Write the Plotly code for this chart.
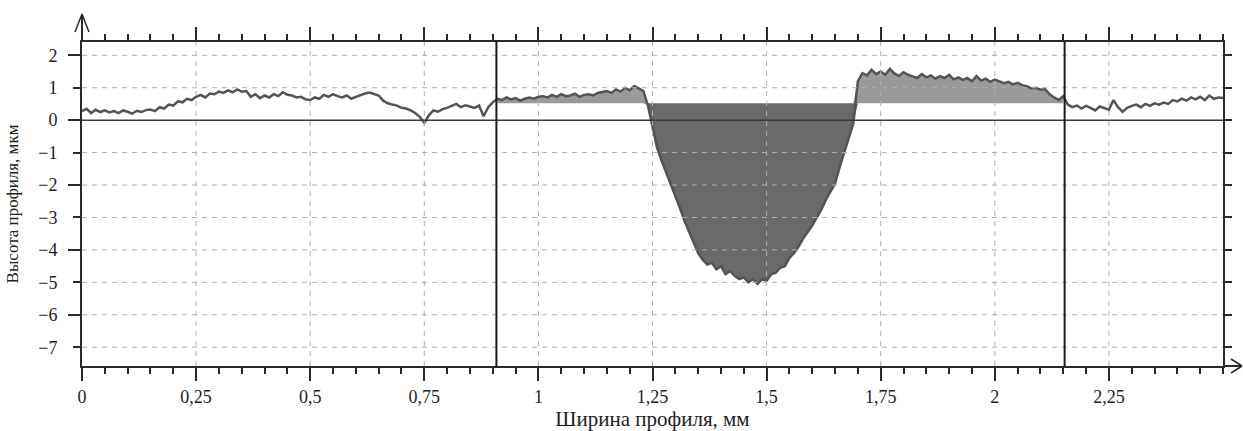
import numpy as np
import plotly.graph_objects as go

# ---------------- data ----------------
STEP_MM = 0.01
profile_um = [
    # 0.00 - 0.05
    0.28, 0.35, 0.22, 0.32, 0.25, 0.30,
    # 0.06 - 0.14
    0.24, 0.28, 0.22, 0.30, 0.26, 0.20, 0.29, 0.25, 0.31,
    # 0.15 - 0.24
    0.33, 0.28, 0.40, 0.36, 0.48, 0.45, 0.58, 0.55, 0.66, 0.62,
    # 0.25 - 0.36
    0.72, 0.78, 0.70, 0.82, 0.80, 0.88, 0.84, 0.92, 0.86, 0.95, 0.88, 0.90,
    # 0.37 - 0.45
    0.72, 0.80, 0.68, 0.76, 0.70, 0.80, 0.74, 0.86, 0.78,
    # 0.46 - 0.55
    0.76, 0.70, 0.72, 0.64, 0.62, 0.70, 0.66, 0.78, 0.72, 0.80,
    # 0.56 - 0.65
    0.74, 0.70, 0.76, 0.66, 0.72, 0.78, 0.82, 0.85, 0.80, 0.76,
    # 0.66 - 0.75
    0.60, 0.52, 0.48, 0.45, 0.38, 0.36, 0.30, 0.22, 0.10, -0.08,
    # 0.76 - 0.85
    0.15, 0.30, 0.26, 0.34, 0.38, 0.44, 0.50, 0.40, 0.46, 0.42,
    # 0.86 - 0.90
    0.38, 0.45, 0.12, 0.40, 0.55,
    # 0.91 - 1.00
    0.66, 0.62, 0.70, 0.64, 0.68, 0.60, 0.66, 0.70, 0.66, 0.72,
    # 1.01 - 1.13
    0.74, 0.70, 0.78, 0.72, 0.80, 0.74, 0.76, 0.82, 0.72, 0.78, 0.80, 0.76, 0.84,
    # 1.14 - 1.23
    0.86, 0.90, 0.84, 0.95, 0.88, 1.00, 0.92, 1.05, 0.98, 0.90,
    # 1.24 - 1.33
    0.45, -0.15, -0.85, -1.25, -1.60, -1.95, -2.30, -2.70, -3.10, -3.45,
    # 1.34 - 1.43
    -3.80, -4.10, -4.30, -4.45, -4.40, -4.60, -4.50, -4.75, -4.65, -4.80,
    # 1.44 - 1.53
    -4.90, -4.85, -5.00, -4.90, -5.05, -4.90, -4.95, -4.75, -4.70, -4.55,
    # 1.54 - 1.63
    -4.50, -4.25, -4.10, -3.90, -3.65, -3.45, -3.25, -3.00, -2.75, -2.45,
    # 1.64 - 1.70
    -2.20, -1.95, -1.45, -1.00, -0.60, -0.10, 1.20,
    # 1.71 - 1.81
    1.45, 1.38, 1.55, 1.42, 1.50, 1.40, 1.58, 1.44, 1.36, 1.48, 1.40,
    # 1.82 - 1.92
    1.35, 1.30, 1.42, 1.32, 1.38, 1.28, 1.36, 1.30, 1.40, 1.26, 1.32,
    # 1.93 - 2.01
    1.24, 1.30, 1.20, 1.36, 1.22, 1.28, 1.18, 1.25, 1.20,
    # 2.02 - 2.07
    1.14, 1.18, 1.10, 1.15, 1.08, 1.05,
    # 2.08 - 2.11
    0.98, 1.00, 0.94, 0.96,
    # 2.12 - 2.15
    0.80, 0.70, 0.62, 0.74,
    # 2.16 - 2.25
    0.48, 0.40, 0.45, 0.36, 0.44, 0.38, 0.30, 0.42, 0.36, 0.32,
    # 2.26 - 2.28
    0.62, 0.40, 0.26,
    # 2.29 - 2.38
    0.38, 0.44, 0.48, 0.40, 0.50, 0.44, 0.52, 0.48, 0.54, 0.50,
    # 2.39 - 2.50
    0.62, 0.58, 0.66, 0.60, 0.70, 0.64, 0.72, 0.62, 0.76, 0.66, 0.70, 0.68,
]

REF_LEVEL_UM = 0.52                 # reference level of the evaluated section
SECTION_BOUNDS_MM = [0.908, 2.153]  # vertical markers
X_TICK_VALS = [0, 0.25, 0.5, 0.75, 1, 1.25, 1.5, 1.75, 2, 2.25]
X_TICK_TEXT = ["0", "0,25", "0,5", "0,75", "1", "1,25", "1,5", "1,75", "2", "2,25"]
Y_TICK_VALS = [2, 1, 0, -1, -2, -3, -4, -5, -6, -7]
Y_MAJOR_VALS = [2, 0, -2, -4, -6]
X_RANGE = [0, 2.5]
Y_RANGE = [-7.58, 2.41]

X_TITLE = "Ширина профиля, мм"
Y_TITLE = "Высота профиля, мкм"

# ---------------- derived ----------------
y = np.array(profile_um)
x = np.round(np.arange(len(y)) * STEP_MM, 2)
sec = (x >= 0.91) & (x <= 2.15)
xs = x[sec]
ys = y[sec]
lvl = np.full(xs.shape, REF_LEVEL_UM)
above = np.maximum(ys, REF_LEVEL_UM)
below = np.minimum(ys, REF_LEVEL_UM)

FONT = "Liberation Serif"
AX = "#2a2a2a"
GRID = "#b0b0b0"

fig = go.Figure()
# light fill above reference level
fig.add_trace(go.Scatter(x=xs, y=lvl, mode="lines", line=dict(width=0), hoverinfo="skip", showlegend=False))
fig.add_trace(go.Scatter(x=xs, y=above, mode="lines", line=dict(width=0), fill="tonexty",
                         fillcolor="#9a9a9a", hoverinfo="skip", showlegend=False))
# dark fill below reference level
fig.add_trace(go.Scatter(x=xs, y=lvl, mode="lines", line=dict(width=0), hoverinfo="skip", showlegend=False))
fig.add_trace(go.Scatter(x=xs, y=below, mode="lines", line=dict(width=0), fill="tonexty",
                         fillcolor="#6a6a6a", hoverinfo="skip", showlegend=False))
# profile line
fig.add_trace(go.Scatter(x=x, y=y, mode="lines", line=dict(color="#545454", width=2.5),
                         showlegend=False))
# invisible trace carrying the secondary y axis (long major ticks)
fig.add_trace(go.Scatter(x=x, y=y, yaxis="y2", mode="lines", opacity=0,
                         hoverinfo="skip", showlegend=False))

shapes = []
for gx in X_TICK_VALS[1:]:
    shapes.append(dict(type="line", xref="x", yref="paper", x0=gx, x1=gx, y0=0, y1=1,
                       line=dict(color=GRID, width=1, dash="5px,5px"), layer="above"))
for gy in Y_TICK_VALS:
    if gy == 0:
        continue
    shapes.append(dict(type="line", xref="paper", yref="y", x0=0, x1=1, y0=gy, y1=gy,
                       line=dict(color=GRID, width=1, dash="5px,5px"), layer="above"))
shapes.append(dict(type="line", xref="paper", yref="y", x0=0, x1=1, y0=0, y1=0,
                   line=dict(color="#3a3a3a", width=1.5), layer="above"))
for bx in SECTION_BOUNDS_MM:
    shapes.append(dict(type="line", xref="x", yref="paper", x0=bx, x1=bx, y0=0, y1=1,
                       line=dict(color="#1a1a1a", width=2), layer="above"))

# axis arrows (pixel-sized, anchored to plot corners)
shapes += [
    dict(type="line", xref="paper", yref="paper", xsizemode="pixel", ysizemode="pixel",
         xanchor=0, yanchor=1, x0=0, x1=0, y0=0, y1=28, line=dict(color=AX, width=2)),
    dict(type="line", xref="paper", yref="paper", xsizemode="pixel", ysizemode="pixel",
         xanchor=0, yanchor=1, x0=0, x1=-7, y0=28, y1=10, line=dict(color=AX, width=1.5)),
    dict(type="line", xref="paper", yref="paper", xsizemode="pixel", ysizemode="pixel",
         xanchor=0, yanchor=1, x0=0, x1=7, y0=28, y1=10, line=dict(color=AX, width=1.5)),
    dict(type="line", xref="paper", yref="paper", xsizemode="pixel", ysizemode="pixel",
         xanchor=1, yanchor=0, x0=0, x1=19, y0=0, y1=0, line=dict(color=AX, width=2)),
    dict(type="line", xref="paper", yref="paper", xsizemode="pixel", ysizemode="pixel",
         xanchor=1, yanchor=0, x0=19, x1=8, y0=0, y1=7, line=dict(color=AX, width=1.5)),
    dict(type="line", xref="paper", yref="paper", xsizemode="pixel", ysizemode="pixel",
         xanchor=1, yanchor=0, x0=19, x1=8, y0=0, y1=-7, line=dict(color=AX, width=1.5)),
]

fig.update_layout(
    width=1243, height=431,
    margin=dict(l=82, r=20, t=42, b=65),
    paper_bgcolor="white", plot_bgcolor="white",
    font=dict(family=FONT, size=18, color="#1e1e1e"),
    shapes=shapes,
    xaxis=dict(
        range=X_RANGE, tickmode="array", tickvals=X_TICK_VALS, ticktext=X_TICK_TEXT,
        ticks="outside", ticklen=13, tickwidth=2, tickcolor=AX,
        showline=True, linecolor=AX, linewidth=2, mirror="ticks",
        showgrid=False, zeroline=False, ticklabelstandoff=0, automargin=False,
        minor=dict(tickmode="linear", tick0=0, dtick=0.05, ticks="outside",
                   ticklen=6, tickwidth=1.5, tickcolor=AX, showgrid=False),
        title=dict(text=X_TITLE, standoff=11, font=dict(size=21)),
    ),
    yaxis=dict(
        range=Y_RANGE, tickmode="array", tickvals=Y_TICK_VALS,
        ticks="outside", ticklen=7, tickwidth=2, tickcolor=AX,
        showline=True, linecolor=AX, linewidth=2, mirror="ticks",
        showgrid=False, zeroline=False, ticklabelstandoff=12, automargin=False,
        title=dict(text=Y_TITLE, standoff=15, font=dict(size=17)),
    ),
    yaxis2=dict(
        range=Y_RANGE, overlaying="y", side="left", anchor="x",
        tickmode="array", tickvals=Y_MAJOR_VALS, ticks="outside", ticklen=13,
        tickwidth=2, tickcolor=AX, showticklabels=False, showgrid=False,
        zeroline=False, showline=False, automargin=False,
    ),
)

fig.write_html("out.html")
